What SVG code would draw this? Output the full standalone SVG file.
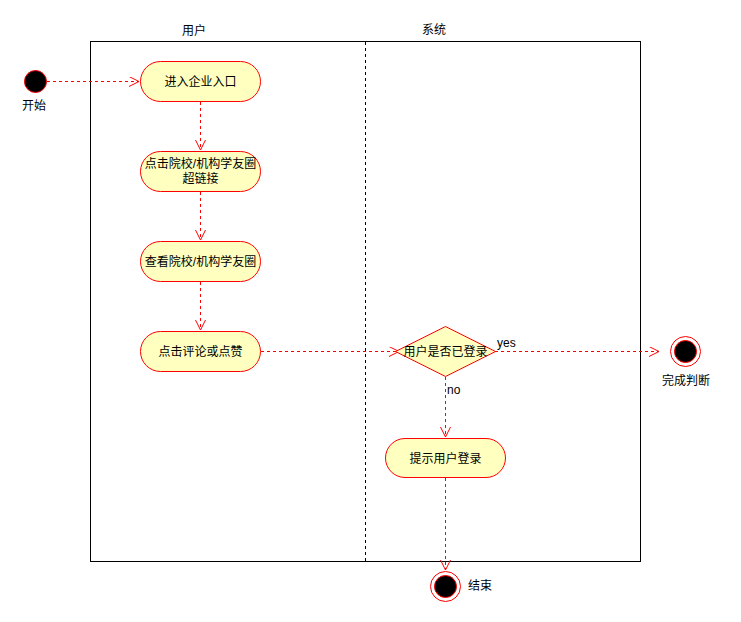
<svg xmlns="http://www.w3.org/2000/svg" width="741" height="622" viewBox="0 0 741 622">
  <style>
    .txt { font-family: "Liberation Sans", "Noto Sans CJK SC", sans-serif; font-size: 12px; fill: #000; }
    .act { fill: #ffffc0; stroke: #ff0000; stroke-width: 1; }
    .flow { fill: none; stroke: #ff0000; stroke-width: 1; stroke-dasharray: 3 3; }
    .head { fill: none; stroke: #ff0000; stroke-width: 1; }
  </style>
  <defs>
    <marker id="open" markerWidth="12" markerHeight="12" refX="10" refY="5" orient="auto" markerUnits="userSpaceOnUse">
      <path d="M0,0 L10,5 L0,10" class="head"/>
    </marker>
  </defs>
  <rect width="741" height="622" fill="#ffffff"/>

  <!-- swimlanes -->
  <g id="lanes">
    <rect x="90.5" y="41.5" width="550" height="520" fill="none" stroke="#000" stroke-width="1"/>
    <line x1="365.5" y1="42" x2="365.5" y2="561" stroke="#000" stroke-width="1" stroke-dasharray="3 3"/>
    <text class="txt" x="194" y="35" text-anchor="middle">用户</text>
    <text class="txt" x="434" y="34" text-anchor="middle">系统</text>
  </g>

  <!-- connectors -->
  <g id="connectors">
    <line class="flow" x1="47" y1="81.5" x2="139" y2="81.5" marker-end="url(#open)"/>
    <line class="flow" x1="200.5" y1="102" x2="200.5" y2="150" marker-end="url(#open)"/>
    <line class="flow" x1="200.5" y1="192" x2="200.5" y2="240" marker-end="url(#open)"/>
    <line class="flow" x1="200.5" y1="282" x2="200.5" y2="330" marker-end="url(#open)"/>
    <line class="flow" x1="261" y1="351.5" x2="399" y2="351.5" marker-end="url(#open)"/>
    <line class="flow" x1="495" y1="351.5" x2="659" y2="351.5" marker-end="url(#open)"/>
    <line class="flow" x1="445.5" y1="377" x2="445.5" y2="437" marker-end="url(#open)"/>
    <line class="flow" x1="445.5" y1="478" x2="445.5" y2="570" marker-end="url(#open)"/>
    <text class="txt" x="497" y="347">yes</text>
    <text class="txt" x="447" y="394">no</text>
  </g>

  <!-- start -->
  <g id="start">
    <circle cx="35.5" cy="81.5" r="11" fill="#000" stroke="#ff0000" stroke-width="1"/>
    <text class="txt" x="34" y="110" text-anchor="middle">开始</text>
  </g>

  <g id="enter">
    <rect class="act" x="140.5" y="61.5" width="120" height="40" rx="20" ry="20"/>
    <text class="txt" x="200.5" y="86" text-anchor="middle">进入企业入口</text>
  </g>

  <g id="click-link">
    <rect class="act" x="140.5" y="151.5" width="120" height="40" rx="20" ry="20"/>
    <text class="txt" x="200.5" y="168" text-anchor="middle">点击院校/机构学友圈</text>
    <text class="txt" x="200.5" y="183" text-anchor="middle">超链接</text>
  </g>

  <g id="view">
    <rect class="act" x="140.5" y="241.5" width="120" height="40" rx="20" ry="20"/>
    <text class="txt" x="200.5" y="266" text-anchor="middle">查看院校/机构学友圈</text>
  </g>

  <g id="comment">
    <rect class="act" x="140.5" y="331.5" width="120" height="40" rx="20" ry="20"/>
    <text class="txt" x="200.5" y="356" text-anchor="middle">点击评论或点赞</text>
  </g>

  <g id="check-login">
    <polygon class="act" points="445.5,326.5 495.5,351.5 445.5,376.5 395.5,351.5"/>
    <text class="txt" x="445.5" y="356" text-anchor="middle">用户是否已登录</text>
  </g>

  <g id="done">
    <circle cx="685.5" cy="351.5" r="15" fill="#fff" stroke="#ff0000" stroke-width="1"/>
    <circle cx="685.5" cy="351.5" r="11" fill="#000" stroke="#ff0000" stroke-width="1"/>
    <text class="txt" x="686" y="385" text-anchor="middle">完成判断</text>
  </g>

  <g id="prompt-login">
    <rect class="act" x="385.5" y="438.5" width="120" height="39" rx="19.5" ry="19.5"/>
    <text class="txt" x="445.5" y="463" text-anchor="middle">提示用户登录</text>
  </g>

  <g id="end">
    <circle cx="445.5" cy="586.5" r="15" fill="#fff" stroke="#ff0000" stroke-width="1"/>
    <circle cx="445.5" cy="586.5" r="11" fill="#000" stroke="#ff0000" stroke-width="1"/>
    <text class="txt" x="468" y="590">结束</text>
  </g>
</svg>
